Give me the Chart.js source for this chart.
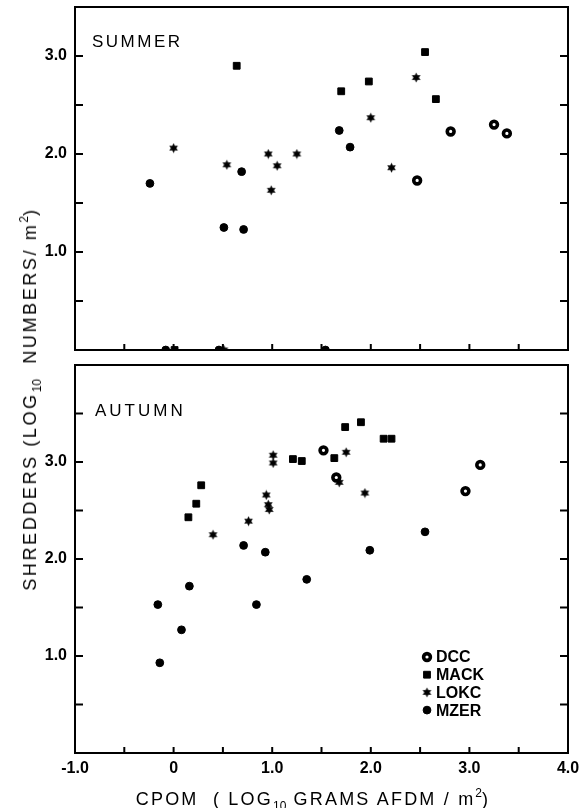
<!DOCTYPE html>
<html>
<head>
<meta charset="utf-8">
<script src="https://cdn.jsdelivr.net/npm/chart.js@4/dist/chart.umd.min.js"></script>
<style>
html,body{margin:0;padding:0;background:#fff;}
#wrap{position:relative;width:579px;height:808px;overflow:hidden;font-family:"Liberation Sans",Arial,sans-serif;color:#000;background:#fff;}
#c1{position:absolute;left:0;top:0;}
#c2{position:absolute;left:0;top:358px;}
.ytitle{position:absolute;left:30px;top:399px;transform:translate(-50%,-50%) rotate(-90deg);white-space:nowrap;font-size:18px;letter-spacing:2.6px;line-height:18px;}
.xtitle{position:absolute;left:313px;top:799px;transform:translate(-50%,-50%);white-space:nowrap;font-size:18px;letter-spacing:2.2px;line-height:18px;}
.ytitle sub,.xtitle sub{font-size:12px;vertical-align:-5px;line-height:0;letter-spacing:0;}
.ytitle sup,.xtitle sup{font-size:12px;vertical-align:8px;line-height:0;letter-spacing:0;}
</style>
</head>
<body>
<div id="wrap">
  <canvas id="c1" width="579" height="358"></canvas>
  <canvas id="c2" width="579" height="450"></canvas>
  <div class="ytitle">SHREDDERS (LOG<sub>10</sub>&nbsp; NUMBERS/ m<sup>2</sup>)</div>
  <div class="xtitle">CPOM&nbsp; ( LOG<sub>10</sub> GRAMS AFDM / m<sup>2</sup>)</div>
</div>
<script>
// ---------------- DATA ----------------
const seriesNames = ['DCC', 'MACK', 'LOKC', 'MZER'];
const panelNames = ['SUMMER', 'AUTUMN'];

// SUMMER
const summerDccX  = [2.47, 2.81, 3.25, 3.38];
const summerDccY  = [1.73, 2.23, 2.30, 2.21];
const summerMackX = [0.64, 1.70, 1.98, 2.55, 2.66, 0.01];
const summerMackY = [2.90, 2.64, 2.74, 3.04, 2.56, 0.00];
const summerLokcX = [0.00, 0.54, 0.96, 1.05, 0.99, 1.25, 2.00, 2.21, 2.46, 0.51];
const summerLokcY = [2.06, 1.89, 2.00, 1.88, 1.63, 2.00, 2.37, 1.86, 2.78, 0.00];
const summerMzerX = [-0.24, 0.69, 0.51, 0.71, 1.68, 1.79, -0.08, 0.46, 1.54];
const summerMzerY = [1.70, 1.82, 1.25, 1.23, 2.24, 2.07, 0.00, 0.00, 0.00];

// AUTUMN
const autumnDccX  = [1.52, 1.65, 2.96, 3.11];
const autumnDccY  = [3.12, 2.84, 2.70, 2.97];
const autumnMackX = [0.15, 0.23, 0.28, 1.21, 1.30, 1.63, 1.74, 1.90, 2.13, 2.21];
const autumnMackY = [2.43, 2.57, 2.76, 3.03, 3.01, 3.04, 3.36, 3.41, 3.24, 3.24];
const autumnLokcX = [0.40, 0.76, 0.94, 0.96, 0.97, 1.01, 1.01, 1.75, 1.68, 1.94];
const autumnLokcY = [2.25, 2.39, 2.66, 2.56, 2.51, 3.07, 2.99, 3.10, 2.79, 2.68];
const autumnMzerX = [-0.16, -0.14, 0.08, 0.16, 0.71, 0.93, 0.84, 1.35, 1.99, 2.55];
const autumnMzerY = [1.53, 0.93, 1.27, 1.72, 2.14, 2.07, 1.53, 1.79, 2.09, 2.28];

// Axis ticks
const xTickValues = [-1, 0, 1, 2, 3, 4];
const xTickLabels = ['-1.0', '0', '1.0', '2.0', '3.0', '4.0'];
const yTickValues = [1, 2, 3];
const yTickLabels = ['1.0', '2.0', '3.0'];

// ---------------- STYLE ----------------
const FONT = '"Liberation Sans", Arial, Helvetica, sans-serif';

function makeStar() {
  const c = document.createElement('canvas');
  c.width = 11; c.height = 11;
  const g = c.getContext('2d');
  g.fillStyle = '#000';
  g.beginPath();
  for (let i = 0; i < 12; i++) {
    const r = (i % 2) ? 2.7 : 5;
    const a = -Math.PI / 2 + i * Math.PI / 6;
    g.lineTo(5.5 + r * Math.cos(a), 5.5 + r * Math.sin(a));
  }
  g.closePath();
  g.fill();
  return c;
}
const starImg = makeStar();

const seriesStyle = {
  DCC:  {pointStyle: 'circle', pointRadius: 3.4, pointBorderWidth: 3.6, backgroundColor: '#fff', borderColor: '#000'},
  MACK: {pointStyle: 'rect', pointRadius: 4.8, pointBorderWidth: 1, backgroundColor: '#000', borderColor: '#000'},
  LOKC: {pointStyle: starImg, pointRadius: 5, pointBorderWidth: 0, backgroundColor: '#000', borderColor: '#000'},
  MZER: {pointStyle: 'circle', pointRadius: 3.9, pointBorderWidth: 1, backgroundColor: '#000', borderColor: '#000'}
};

function pts(xs, ys) { return xs.map((x, i) => ({x: x, y: ys[i]})); }

function makeDatasets(list) {
  return list.map((d, i) => {
    const name = seriesNames[i];
    const s = seriesStyle[name];
    return Object.assign({
      label: name,
      data: pts(d[0], d[1]),
      showLine: false,
      clip: 0,
      pointHoverRadius: s.pointRadius
    }, s);
  });
}

function xLabel(v) {
  const i = xTickValues.indexOf(v);
  return i >= 0 ? xTickLabels[i] : '';
}
function yLabel(v) {
  const i = yTickValues.indexOf(v);
  return i >= 0 ? yTickLabels[i] : '';
}

function drawSymbol(ctx, name, x, y) {
  const s = seriesStyle[name];
  ctx.save();
  ctx.fillStyle = s.backgroundColor;
  ctx.strokeStyle = s.borderColor;
  ctx.lineWidth = s.pointBorderWidth;
  if (Chart.helpers && Chart.helpers.drawPoint) {
    Chart.helpers.drawPoint(ctx, {pointStyle: s.pointStyle, radius: s.pointRadius, borderWidth: s.pointBorderWidth, rotation: 0}, x, y);
  }
  ctx.restore();
}

const framePlugin = {
  id: 'frame',
  afterDatasetsDraw(chart, args, opts) {
    const ctx = chart.ctx, a = chart.chartArea, xs = chart.scales.x, ys = chart.scales.y;
    ctx.save();
    ctx.strokeStyle = '#000';
    ctx.lineWidth = 2;
    ctx.strokeRect(a.left, a.top, a.right - a.left, a.bottom - a.top);
    ctx.beginPath();
    for (let v = ys.min + 0.5; v < ys.max - 0.01; v += 0.5) {
      const y = ys.getPixelForValue(v);
      ctx.moveTo(a.left, y); ctx.lineTo(a.left + 8, y);
      ctx.moveTo(a.right - 8, y); ctx.lineTo(a.right, y);
    }
    for (let v = xs.min + 0.5; v < xs.max - 0.01; v += 0.5) {
      const x = xs.getPixelForValue(v);
      ctx.moveTo(x, a.bottom); ctx.lineTo(x, a.bottom - 6);
    }
    ctx.stroke();

    // panel label
    ctx.fillStyle = '#000';
    ctx.font = '17px ' + FONT;
    ctx.textBaseline = 'alphabetic';
    ctx.textAlign = 'left';
    if ('letterSpacing' in ctx) ctx.letterSpacing = opts.spacing + 'px';
    ctx.fillText(opts.label, a.left + opts.dx, a.top + opts.dy);
    if ('letterSpacing' in ctx) ctx.letterSpacing = '0px';

    // legend
    if (opts.legend) {
      ctx.font = 'bold 16px ' + FONT;
      ctx.textBaseline = 'middle';
      chart.data.datasets.forEach((ds, i) => {
        const y = a.top + 292 + i * 17.7;
        drawSymbol(ctx, ds.label, a.left + 352, y);
        ctx.fillStyle = '#000';
        ctx.fillText(ds.label, a.left + 361, y + 1);
      });
    }
    ctx.restore();
  }
};

function baseOptions(yMax, showX, label, dx, dy, spacing, legend, padTop) {
  return {
    responsive: false,
    animation: false,
    events: [],
    layout: {padding: {top: padTop, right: 11, left: 0, bottom: 0}},
    plugins: {
      legend: {display: false},
      tooltip: {enabled: false},
      title: {display: false},
      frame: {label: label, dx: dx, dy: dy, spacing: spacing, legend: legend}
    },
    scales: {
      x: {
        type: 'linear', min: -1, max: 4,
        grid: {display: false, drawTicks: false},
        border: {display: false},
        ticks: {
          display: showX, stepSize: 0.5, autoSkip: false, maxRotation: 0, minRotation: 0,
          callback: xLabel, color: '#000', padding: 6,
          font: {family: FONT, size: 16, weight: 'bold'}
        },
        afterFit(s) { s.height = showX ? 55 : 8; s.paddingLeft = 0; s.paddingRight = 0; }
      },
      y: {
        type: 'linear', min: 0, max: yMax,
        grid: {display: false, drawTicks: false},
        border: {display: false},
        ticks: {
          stepSize: 0.5, autoSkip: false, callback: yLabel, color: '#000', padding: 8,
          font: {family: FONT, size: 16, weight: 'bold'}
        },
        afterFit(s) { s.width = 75; s.paddingTop = 0; s.paddingBottom = 0; }
      }
    }
  };
}

new Chart(document.getElementById('c1'), {
  type: 'scatter',
  data: {datasets: makeDatasets([
    [summerDccX, summerDccY], [summerMackX, summerMackY],
    [summerLokcX, summerLokcY], [summerMzerX, summerMzerY]])},
  options: baseOptions(3.5, false, panelNames[0], 17, 40, 2.5, false, 7),
  plugins: [framePlugin]
});

new Chart(document.getElementById('c2'), {
  type: 'scatter',
  data: {datasets: makeDatasets([
    [autumnDccX, autumnDccY], [autumnMackX, autumnMackY],
    [autumnLokcX, autumnLokcY], [autumnMzerX, autumnMzerY]])},
  options: baseOptions(4, true, panelNames[1], 20, 51, 3, true, 4),
  plugins: [framePlugin]
});
</script>
</body>
</html>
